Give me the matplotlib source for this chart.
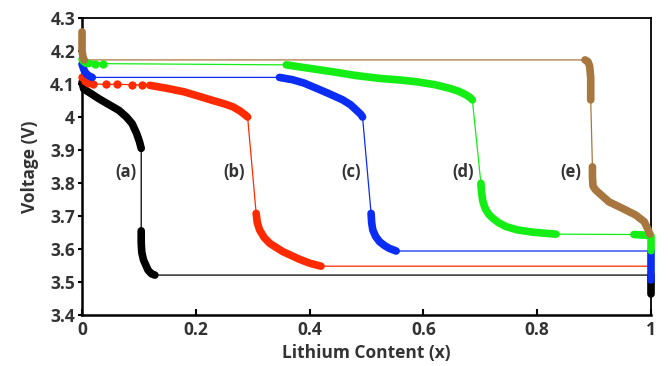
import matplotlib
matplotlib.use('Agg')
import matplotlib.pyplot as plt
from matplotlib.ticker import FuncFormatter

plt.rcParams['font.family'] = ['Open Sans', 'DejaVu Sans']
plt.rcParams['font.weight'] = 'bold'

TXT = '#333333'

# (a) black
a_x1 = [0.0, 0.003, 0.014, 0.03, 0.049, 0.065, 0.078, 0.088, 0.096, 0.101, 0.104]
a_v1 = [4.105, 4.085, 4.073, 4.055, 4.036, 4.02, 4.0, 3.98, 3.95, 3.925, 3.905]
a_x2 = [0.104, 0.104, 0.105, 0.108, 0.116, 0.122, 0.128]
a_v2 = [3.655, 3.62, 3.59, 3.567, 3.536, 3.525, 3.521]
a_x3 = [1.0, 1.0]
a_v3 = [3.521, 3.465]

# (b) red
b_xd = [0.0, 0.005, 0.011, 0.02, 0.043, 0.061, 0.087, 0.105]
b_vd = [4.12, 4.108, 4.102, 4.1, 4.099, 4.099, 4.098, 4.097]
b_x1 = [0.119, 0.149, 0.18, 0.207, 0.23, 0.25, 0.265, 0.278, 0.287, 0.291]
b_v1 = [4.096, 4.087, 4.076, 4.062, 4.05, 4.04, 4.031, 4.018, 4.006, 4.0]
b_x2 = [0.306, 0.308, 0.312, 0.32, 0.33, 0.353, 0.382, 0.40, 0.42]
b_v2 = [3.708, 3.68, 3.658, 3.635, 3.617, 3.592, 3.569, 3.557, 3.548]
b_x3 = [1.0]
b_v3 = [3.548]

# (c) blue
c_x0 = [0.0, 0.004, 0.008, 0.013, 0.018]
c_v0 = [4.16, 4.14, 4.13, 4.124, 4.12]
c_x1 = [0.347, 0.37, 0.39, 0.412, 0.435, 0.458, 0.472, 0.482, 0.49, 0.493]
c_v1 = [4.12, 4.113, 4.103, 4.087, 4.07, 4.052, 4.037, 4.021, 4.008, 4.0]
c_x2 = [0.508, 0.509, 0.511, 0.516, 0.523, 0.532, 0.54, 0.552]
c_v2 = [3.708, 3.68, 3.658, 3.638, 3.622, 3.61, 3.602, 3.594]
c_x3 = [1.0, 1.0, 1.0]
c_v3 = [3.594, 3.55, 3.505]

# (d) green
d_x0 = [0.0, 0.003, 0.007, 0.012]
d_v0 = [4.175, 4.168, 4.163, 4.162]
d_xd = [0.023, 0.037]
d_vd = [4.162, 4.162]
d_x1 = [0.359, 0.39, 0.441, 0.48, 0.523, 0.56, 0.587, 0.62, 0.646, 0.662, 0.675, 0.682, 0.686]
d_v1 = [4.158, 4.15, 4.137, 4.126, 4.117, 4.112, 4.107, 4.098, 4.087, 4.078, 4.067, 4.059, 4.052]
d_x2 = [0.701, 0.702, 0.704, 0.707, 0.71, 0.715, 0.722, 0.732, 0.745, 0.765, 0.792, 0.812, 0.833]
d_v2 = [3.799, 3.775, 3.748, 3.73, 3.718, 3.705, 3.693, 3.68, 3.668, 3.658, 3.651, 3.648, 3.645]
d_x3 = [0.97, 0.98, 0.99, 1.0, 1.0, 1.0]
d_v3 = [3.644, 3.643, 3.642, 3.64, 3.62, 3.595]

# (e) brown
e_x0 = [0.0, 0.0, 0.0, 0.002, 0.004]
e_v0 = [4.258, 4.23, 4.2, 4.18, 4.173]
e_x1 = [0.884, 0.889, 0.892, 0.894, 0.894, 0.894]
e_v1 = [4.173, 4.168, 4.155, 4.12, 4.085, 4.052]
e_x2 = [0.897, 0.897, 0.898, 0.902, 0.909, 0.926, 0.95, 0.973, 0.988, 0.995, 0.998]
e_v2 = [3.849, 3.82, 3.791, 3.78, 3.769, 3.743, 3.723, 3.703, 3.683, 3.658, 3.645]

labels = ['(a)', '(b)', '(c)', '(d)', '(e)']
label_x = [0.078, 0.268, 0.473, 0.669, 0.859]
label_v = [3.834, 3.834, 3.834, 3.834, 3.834]

curves = [
    ('black', [(a_x1, a_v1), (a_x2, a_v2), (a_x3, a_v3)], None),
    ('#ff2a00', [(b_x1, b_v1), (b_x2, b_v2), (b_x3, b_v3)], (b_xd, b_vd)),
    ('#0a2cf5', [(c_x0, c_v0), (c_x1, c_v1), (c_x2, c_v2), (c_x3, c_v3)], None),
    ('#14ee14', [(d_x0, d_v0), (d_x1, d_v1), (d_x2, d_v2), (d_x3, d_v3)], (d_xd, d_vd)),
    ('#a8773f', [(e_x0, e_v0), (e_x1, e_v1), (e_x2, e_v2)], None),
]

fig = plt.figure(figsize=(6.68, 3.66), dpi=100)
ax = fig.add_axes([0.1228, 0.1393, 0.8518, 0.8115])

for color, segs, dots in curves:
    # thin line through the whole path
    xs, vs = [], []
    if dots is not None:
        xs += dots[0]
        vs += dots[1]
    for sx, sv in segs:
        xs += sx
        vs += sv
    ax.plot(xs, vs, '-', color=color, lw=0.9, zorder=2, clip_on=False)
    # densely sampled parts
    for sx, sv in segs:
        ax.plot(sx, sv, '-', color=color, lw=5.5, solid_capstyle='round',
                solid_joinstyle='round', zorder=3, clip_on=False)
    if dots is not None:
        ax.plot(dots[0], dots[1], 'o', color=color, ms=6, mew=0, zorder=3,
                clip_on=False)

for lab, lx, lv in zip(labels, label_x, label_v):
    ax.text(lx, lv, lab, ha='center', va='center', fontsize=12,
            fontweight='bold', color=TXT)

ax.set_xlim(0, 1)
ax.set_ylim(3.4, 4.3)
ax.set_xticks([0, 0.2, 0.4, 0.6, 0.8, 1.0])
ax.set_yticks([3.4, 3.5, 3.6, 3.7, 3.8, 3.9, 4.0, 4.1, 4.2, 4.3])
ax.xaxis.set_major_formatter(FuncFormatter(lambda v, p: '%g' % round(v, 2)))
ax.yaxis.set_major_formatter(FuncFormatter(lambda v, p: '%g' % round(v, 2)))
ax.tick_params(axis='x', direction='in', length=4, width=1.5, labelsize=12.5,
               labelcolor=TXT, pad=4)
ax.tick_params(axis='y', direction='out', length=3, width=1.5, labelsize=12.5,
               labelcolor=TXT, pad=2)
for lab in ax.get_xticklabels() + ax.get_yticklabels():
    lab.set_fontweight('bold')
for s in ['left', 'bottom']:
    ax.spines[s].set_linewidth(1.8)
for s in ['top', 'right']:
    ax.spines[s].set_linewidth(1.3)

ax.set_xlabel('Lithium Content (x)', fontsize=12.5, fontweight='bold', color=TXT, labelpad=4)
ax.set_ylabel('Voltage (V)', fontsize=12.5, fontweight='bold', color=TXT, labelpad=8)

plt.savefig('out.png', dpi=100)
